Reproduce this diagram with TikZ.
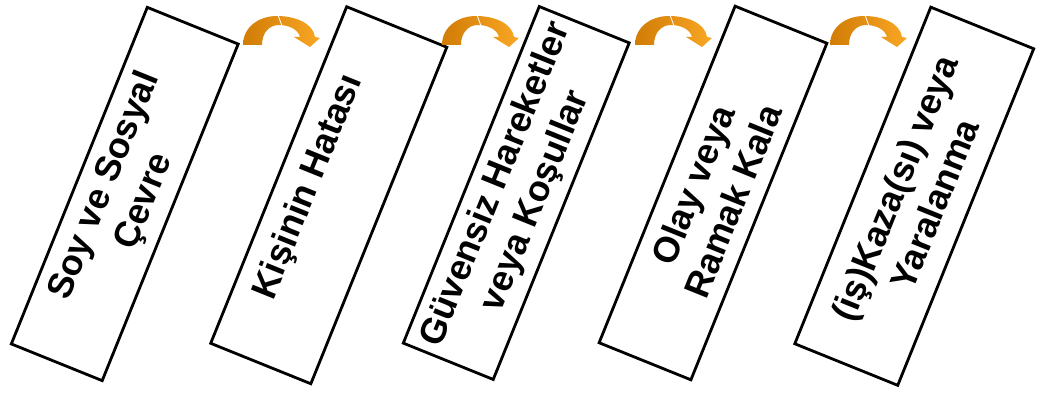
\documentclass[tikz,border=0pt]{standalone}
\usepackage{fontspec}
\setmainfont{Liberation Sans}
\definecolor{arrowdark}{RGB}{208,124,6}
\definecolor{arrowlight}{RGB}{250,166,36}
\tikzset{
  stagebox/.style={draw=black, line width=2.8pt, rotate=68, minimum width=363pt,
    align=center, inner sep=0pt,
    font=\bfseries\fontsize{36}{43}\selectfont},
  bendarrow/.pic={
    \shade[left color=arrowdark, right color=arrowlight]
      (0,0) .. controls (0,18) and (16,29) .. (34,29)
      .. controls (52,29) and (70,22) .. (72,8)
      -- (77,7) -- (67,-2) -- (51,8) -- (57,8)
      .. controls (55,16) and (45,20) .. (36,20)
      .. controls (26,20) and (19,12) .. (19,0) -- cycle;
    \draw[white, line width=0.8pt] (35,30) -- (39,19);
  }
}
\begin{document}
\begin{tikzpicture}[x=1pt, y=1pt]
  \useasboundingbox (0,0) rectangle (1041,396);
  % the five stages, tilted like falling dominoes
  \node[stagebox, minimum height=98pt]  (b1) at (124.75,202)  {Soy ve Sosyal\\Çevre};
  \node[stagebox, minimum height=108pt] (b2) at (328.75,200.75) {\raisebox{12pt}[0pt][0pt]{Kişinin Hatası}};
  \node[stagebox, minimum height=97pt]  (b3) at (516.25,203)  {Güvensiz Hareketler\\veya Koşullar};
  \node[stagebox, minimum height=99pt]  (b4) at (713,203)     {Olay veya\\Ramak Kala};
  \node[stagebox, minimum height=111pt] (b5) at (914.25,199.75) {(iş)Kaza(sı) veya\\Yaralanma};
  % curved arrows over the gaps between neighbouring stages
  \pic at (243,351) {bendarrow};
  \pic at (442,351) {bendarrow};
  \pic at (635,351) {bendarrow};
  \pic at (830,351) {bendarrow};
\end{tikzpicture}
\end{document}
